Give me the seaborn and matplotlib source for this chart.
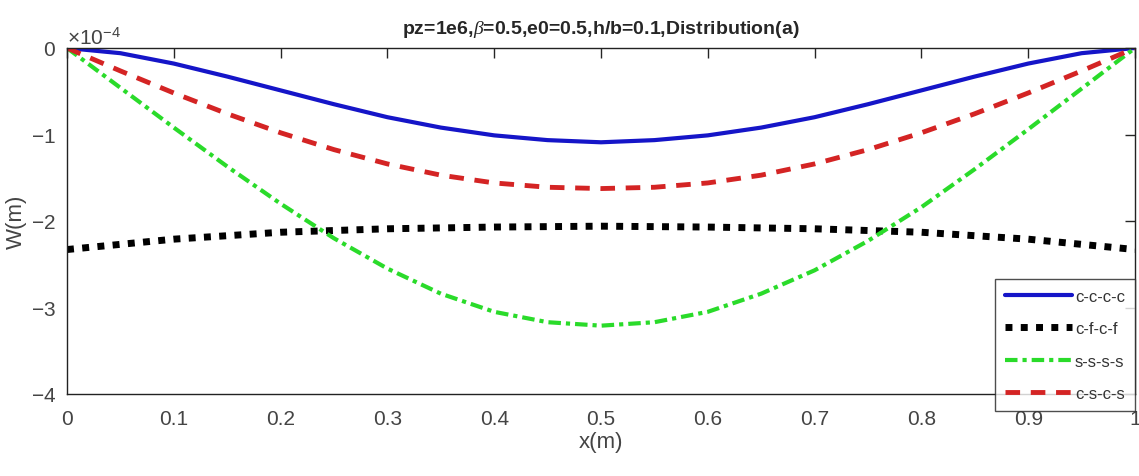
import numpy as np
import matplotlib
matplotlib.use("Agg")
import matplotlib.pyplot as plt
import seaborn as sns
from matplotlib.ticker import ScalarFormatter

# ---- data (W in units of 1e-4 m) ----
x_pos = [0.00, 0.05, 0.10, 0.15, 0.20, 0.25, 0.30, 0.35, 0.40, 0.45, 0.50,
         0.55, 0.60, 0.65, 0.70, 0.75, 0.80, 0.85, 0.90, 0.95, 1.00]
w_cccc = [0.00, -0.06, -0.18, -0.33, -0.49, -0.65, -0.80, -0.92, -1.01, -1.065, -1.09,
          -1.065, -1.01, -0.92, -0.80, -0.65, -0.49, -0.33, -0.18, -0.06, 0.00]
w_cfcf = [-2.33, -2.27, -2.21, -2.17, -2.13, -2.11, -2.09, -2.08, -2.07, -2.065, -2.06,
          -2.065, -2.07, -2.08, -2.09, -2.11, -2.13, -2.17, -2.21, -2.27, -2.33]
w_ssss = [0.00, -0.46, -0.92, -1.37, -1.80, -2.20, -2.55, -2.84, -3.05, -3.17, -3.21,
          -3.17, -3.05, -2.84, -2.57, -2.23, -1.84, -1.40, -0.94, -0.47, 0.00]
w_cscs = [0.00, -0.265, -0.52, -0.76, -0.98, -1.175, -1.34, -1.47, -1.56, -1.61, -1.625,
          -1.61, -1.56, -1.47, -1.34, -1.175, -0.98, -0.76, -0.52, -0.265, 0.00]
labels = ["c-c-c-c", "c-f-c-f", "s-s-s-s", "c-s-c-s"]
xtick_labels = ["0", "0.1", "0.2", "0.3", "0.4", "0.5", "0.6", "0.7", "0.8", "0.9", "1"]
ytick_vals = [-4, -3, -2, -1, 0]
title = r"pz=1e6,$\beta$=0.5,e0=0.5,h/b=0.1,Distribution(a)"

sns.set_theme(style="white")
plt.rcParams['font.family'] = ['Liberation Sans', 'DejaVu Sans']
plt.rcParams['axes.unicode_minus'] = False
plt.rcParams['mathtext.fontset'] = 'custom'
plt.rcParams['mathtext.it'] = 'Liberation Serif:italic'
plt.rcParams['mathtext.rm'] = 'Liberation Sans'

fig = plt.figure(figsize=(11.39, 4.77), dpi=100)
ax = fig.add_axes([67/1139, 1-395/477, 1068/1139, 346/477])

x = np.array(x_pos)
series = [
    (np.array(w_cccc) * 1e-4, "#1515C8", "-", 3.0),
    (np.array(w_cfcf) * 1e-4, "#000000", (0, (1.0, 1.2)), 5.0),
    (np.array(w_ssss) * 1e-4, "#2ADB2A", (0, (3.0, 1.2, 1.0, 1.2)), 3.0),
    (np.array(w_cscs) * 1e-4, "#D42424", (0, (3.0, 2.2)), 3.5),
]
for (w, c, ls, lw), lab in zip(series, labels):
    sns.lineplot(x=x, y=w, ax=ax, color=c, linestyle=ls, linewidth=lw,
                 label=lab, sort=False)
for line in ax.get_lines():
    line.set_dash_capstyle('butt')
    line.set_solid_joinstyle('round')
    line.set_dash_joinstyle('round')

ax.set_xlim(0, 1)
ax.set_ylim(-4e-4, 0)
ax.set_xticks(np.arange(0, 1.01, 0.1))
ax.set_xticklabels(xtick_labels)
ax.set_yticks(np.array(ytick_vals) * 1e-4)
fmt = ScalarFormatter(useMathText=True)
fmt.set_powerlimits((-3, 3))
ax.yaxis.set_major_formatter(fmt)
off = ax.yaxis.get_offset_text()
off.set_fontsize(15)
off.set_color("#444444")

ax.tick_params(direction='in', length=7, width=1, top=True, right=True,
               labelsize=15, labelcolor="#444444")
ax.tick_params(axis='x', pad=11)
ax.tick_params(axis='y', pad=8)
for s in ax.spines.values():
    s.set_color("#222222")
    s.set_linewidth(1.0)

ax.set_xlabel("x(m)", fontsize=16, color="#444444", labelpad=2)
ax.set_ylabel("W(m)", fontsize=16, color="#444444", labelpad=3)
ax.set_title(title, fontsize=14, fontweight='bold', pad=11)

leg = ax.legend(loc='lower right', bbox_to_anchor=(1.0, -0.05),
                prop={'size': 12},
                frameon=True, fancybox=False, handlelength=4.0, handletextpad=0.2,
                borderpad=0.6, labelspacing=1.05, borderaxespad=0)
for t in leg.get_texts():
    t.set_color("#333333")
leg.get_frame().set_edgecolor("#222222")
leg.get_frame().set_linewidth(1.0)
leg.set_zorder(10)

fig.savefig("out.png", dpi=100)
